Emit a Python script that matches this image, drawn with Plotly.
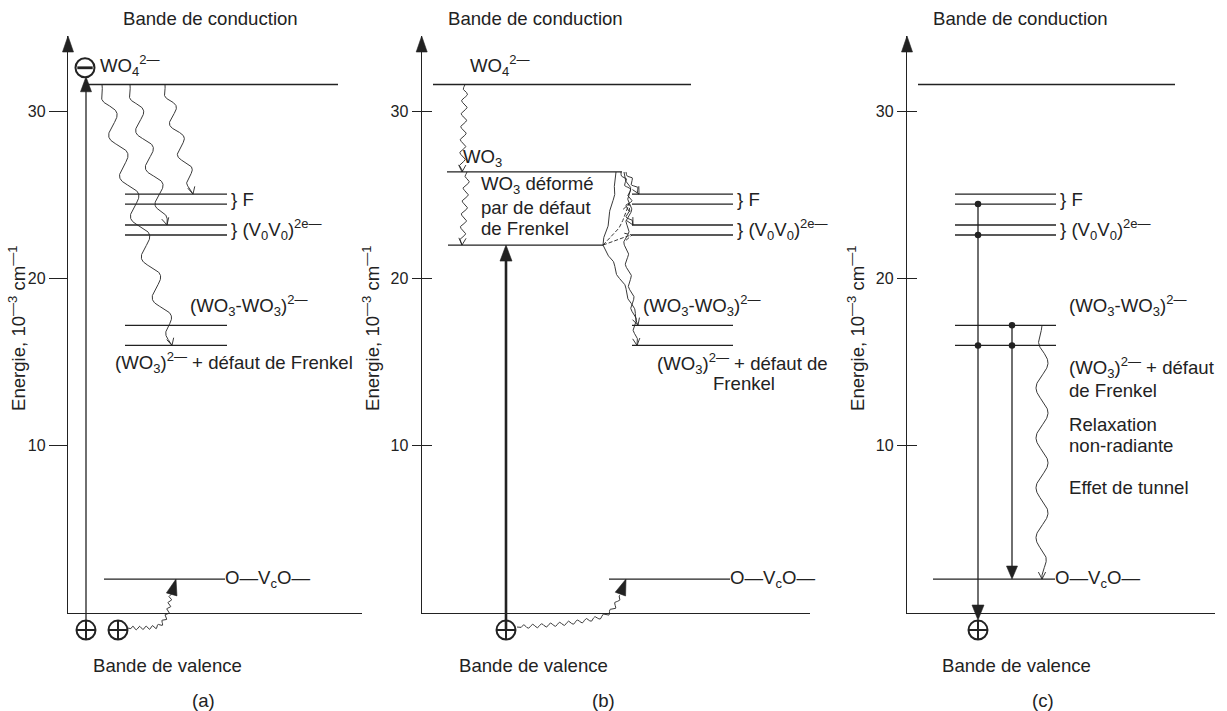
import numpy as np
import plotly.graph_objects as go

# ---------------- data (energies in 10^3 cm^-1) ----------------
ENERGY_TICKS = [10, 20, 30]
Y_MAX = 34.5
E_WO4 = 31.6          # WO4 2- level (conduction band edge)
E_ELECTRON = 32.6     # electron symbol position
E_F = [25.05, 24.45]  # F centre doublet
E_VV = [23.2, 22.6]   # (V0V0)2e- doublet
E_WO3WO3 = 17.2       # (WO3-WO3)2-
E_WO3FR = 16.0        # (WO3)2- + Frenkel defect
E_OVCO = 2.03         # O-VcO
E_WO3 = 26.37         # WO3 (panel b)
E_WO3DEF = 22.0       # distorted WO3 (panel b)
E_HOLE = -1.02        # hole symbol (valence band)
E_VALENCE = 0.0

PANEL_TITLES_TOP = ["Bande de conduction"] * 3
PANEL_TITLES_BOTTOM = ["Bande de valence"] * 3
PANEL_LETTERS = ["(a)", "(b)", "(c)"]

# ---------------- geometry helpers ----------------
W, H = 1227, 711
Y0, YTOP = 613.0, 36.0
S = (Y0 - YTOP) / Y_MAX
INK = "#222222"
FONT = "Liberation Sans, Arial, Helvetica, sans-serif"
FS = 18.6


def py(e):
    return Y0 - e * S


def ep(p):
    return (Y0 - p) / S


def smooth(pts, n=24):
    pts = np.array(pts, float)
    if len(pts) < 3:
        return pts
    P = np.vstack([pts[0], pts, pts[-1]])
    out = []
    for i in range(1, len(P) - 2):
        p0, p1, p2, p3 = P[i - 1], P[i], P[i + 1], P[i + 2]
        for t in np.linspace(0, 1, n, endpoint=False):
            t2, t3 = t * t, t * t * t
            out.append(0.5 * (2 * p1 + (-p0 + p2) * t + (2 * p0 - 5 * p1 + 4 * p2 - p3) * t2
                              + (-p0 + 3 * p1 - 3 * p2 + p3) * t3))
    out.append(pts[-1])
    return np.array(out)


def wavy(pts, amp, wl, step=0.4):
    base = smooth(pts)
    seg = np.diff(base, axis=0)
    L = np.hypot(seg[:, 0], seg[:, 1])
    cum = np.concatenate([[0], np.cumsum(L)])
    total = cum[-1]
    s = np.linspace(0, total, max(int(total / step), 3))
    x = np.interp(s, cum, base[:, 0])
    y = np.interp(s, cum, base[:, 1])
    if amp == 0:
        return x, y, base
    dx, dy = np.gradient(x), np.gradient(y)
    nn = np.hypot(dx, dy)
    nn[nn == 0] = 1
    nx, ny = -dy / nn, dx / nn
    taper = np.clip(np.minimum(s, total - s) / (wl * 0.5), 0, 1)
    off = amp * np.sin(2 * np.pi * s / wl) * taper
    return x + off * nx, y + off * ny, base


def end_dir(base):
    d = base[-1] - base[-4 if len(base) > 4 else 0]
    return d / np.hypot(*d)


class Pen:
    def __init__(self):
        self.x, self.y = [], []

    def add(self, xs, ys):
        self.x += list(xs) + [None]
        self.y += [None if v is None else (Y0 - v) / S for v in ys] + [None]


levels = Pen()
waves = Pen()
dashed = Pen()
vert = Pen()
thick = Pen()
heads = Pen()


def level(x0, x1, e):
    levels.add([x0, x1], [py(e), py(e)])


def open_head(tip, d, L=7.0, Wd=3.6, pen=None):
    pen = pen or waves
    n = np.array([-d[1], d[0]])
    b = tip - L * d
    p1, p2 = b + Wd * n, b - Wd * n
    pen.add([p1[0], tip[0], p2[0]], [p1[1], tip[1], p2[1]])


def filled_head(tip, d, L=15.0, Wd=5.5):
    tip = np.array(tip, float)
    n = np.array([-d[1], d[0]])
    b = tip - L * d
    p1, p2 = b + Wd * n, b - Wd * n
    heads.add([tip[0], p1[0], p2[0], tip[0]], [tip[1], p1[1], p2[1], tip[1]])


def wave_arrow(pts, amp, wl, pen=None, head="open", **kw):
    pen = pen or waves
    pts = [(x, py(e)) for x, e in pts]
    x, y, base = wavy(pts, amp, wl)
    pen.add(x, y)
    d = end_dir(base)
    tip = np.array(pts[-1], float)
    if head == "open":
        open_head(tip, d, pen=pen, **kw)
    elif head == "filled":
        filled_head(tip, d, **kw)


def wave_raw(pts_px, amp, wl, pen=None):
    pen = pen or waves
    x, y, base = wavy(pts_px, amp, wl)
    pen.add(x, y)
    return base


AX = [68.0, 421.7, 907.0]
AX_END = [362.0, 810.0, 1215.0]

# ---------------- panel (a) ----------------
level(88, 338, E_WO4)
for e in E_F + E_VV + [E_WO3WO3, E_WO3FR]:
    level(125, 227, e)
level(104, 225, E_OVCO)
wave_arrow([(102, E_WO4), (172, E_WO3FR)], 7, 42)
wave_arrow([(130, E_WO4), (167, E_VV[0])], 6.5, 38)
wave_arrow([(165, E_WO4), (193, E_F[0])], 5.5, 32)
# vertical excitation arrow
vert.add([86, 86], [py(E_HOLE), py(E_ELECTRON) + 22])
filled_head((86, py(E_ELECTRON) + 9), np.array([0, -1.0]), L=15, Wd=5.5)
# hole -> O-VcO trap
wave_raw([(128, py(E_HOLE) - 2), (150, py(E_HOLE) - 2.5), (160, py(E_HOLE) - 5),
          (167, py(E_HOLE) - 16), (171, py(E_OVCO) + 15)], 1.8, 6.5)
filled_head((176, py(E_OVCO)), np.array([0.27, -0.96]), L=16, Wd=5.5)

# ---------------- panel (b) ----------------
level(433, 691, E_WO4)
level(447, 622, E_WO3)
level(448, 603, E_WO3DEF)
for e in E_F + E_VV + [E_WO3WO3, E_WO3FR]:
    level(632, 733, e)
level(609, 730, E_OVCO)
wave_arrow([(465, E_WO4), (462, E_WO3)], 2.8, 13)
wave_arrow([(467, E_WO3), (462, E_WO3DEF)], 2.8, 13)
# right-hand relaxation paths
wave_raw([(616, py(E_WO3)), (612, 205), (606, 230), (603, py(E_WO3DEF))], 1.2, 30)
wave_arrow([(603, E_WO3DEF), (616, ep(270)), (630, ep(300)), (638, E_WO3WO3)], 1.5, 26)
wave_arrow([(624, E_WO3), (630, ep(200)), (626, ep(245)), (631, ep(290)), (637, E_WO3FR)], 2.2, 22)
wave_arrow([(626, E_WO3), (634, ep(185)), (639, E_F[0])], 2.2, 11)
wave_arrow([(621, E_WO3), (630, ep(195)), (627, ep(212)), (633, E_VV[0])], 2.2, 11)
wave_arrow([(603, E_WO3DEF), (619, ep(228)), (629, E_F[1])], 0, 10, pen=dashed)
wave_arrow([(603, E_WO3DEF), (621, ep(238)), (632, E_VV[1])], 0, 10, pen=dashed)
# thick excitation arrow
thick.add([506, 506], [py(E_HOLE), py(E_WO3DEF) + 12])
filled_head((506, py(E_WO3DEF)), np.array([0, -1.0]), L=16, Wd=6)
wave_raw([(517, py(E_HOLE) - 3), (560, py(E_HOLE) - 6), (597, py(E_HOLE) - 12),
          (612, py(E_HOLE) - 20), (620, py(E_OVCO) + 16)], 1.8, 9)
filled_head((626, py(E_OVCO)), np.array([0.35, -0.94]), L=16, Wd=5.5)

# ---------------- panel (c) ----------------
level(918, 1175, E_WO4)
for e in E_F + E_VV + [E_WO3WO3, E_WO3FR]:
    level(955, 1056, e)
level(933, 1055, E_OVCO)
vert.add([978, 978], [py(E_F[1]), py(E_HOLE) - 18])
filled_head((978, py(E_HOLE) - 10), np.array([0, 1.0]), L=15, Wd=6)
vert.add([1012, 1012], [py(E_WO3WO3), py(E_OVCO) - 10])
filled_head((1012, py(E_OVCO)), np.array([0, 1.0]), L=13, Wd=5.5)
wave_arrow([(1042, E_WO3WO3), (1042, E_OVCO)], 6, 50)

# axis arrowheads
for ax in AX:
    filled_head((ax, py(Y_MAX)), np.array([0, -1.0]), L=16, Wd=5.5)

# ---------------- figure ----------------
fig = go.Figure()
cv = dict(xaxis="x4", yaxis="y4", hoverinfo="skip", showlegend=False)
fig.add_trace(go.Scatter(x=levels.x, y=levels.y, mode="lines",
                         line=dict(color=INK, width=1.3), **cv))
fig.add_trace(go.Scatter(x=waves.x, y=waves.y, mode="lines",
                         line=dict(color=INK, width=0.9), **cv))
fig.add_trace(go.Scatter(x=dashed.x, y=dashed.y, mode="lines",
                         line=dict(color=INK, width=0.9, dash="4px,2px"), **cv))
fig.add_trace(go.Scatter(x=vert.x, y=vert.y, mode="lines",
                         line=dict(color=INK, width=1.3), **cv))
fig.add_trace(go.Scatter(x=thick.x, y=thick.y, mode="lines",
                         line=dict(color=INK, width=2.6), **cv))
fig.add_trace(go.Scatter(x=heads.x, y=heads.y, mode="lines", fill="toself",
                         fillcolor=INK, line=dict(color=INK, width=0.6), **cv))
# dots on panel (c)
fig.add_trace(go.Scatter(x=[978, 978, 978, 1012, 1012],
                         y=[E_F[1], E_VV[1], E_WO3FR, E_WO3WO3, E_WO3FR],
                         mode="markers", marker=dict(size=6.5, color=INK), **cv))
# holes and electron
fig.add_trace(go.Scatter(x=[86, 118, 506, 978], y=[E_HOLE] * 4, mode="markers",
                         marker=dict(symbol="circle-cross-open", size=19, color=INK,
                                     line=dict(width=2, color=INK)), **cv))
fig.add_trace(go.Scatter(x=[85], y=[E_ELECTRON], mode="markers",
                         marker=dict(symbol="circle", size=19, color="white",
                                     line=dict(width=2, color=INK)), **cv))
fig.add_trace(go.Scatter(x=[85], y=[E_ELECTRON], mode="markers",
                         marker=dict(symbol="line-ew-open", size=11, color=INK,
                                     line=dict(width=2.8, color=INK)), **cv))

# dummy traces to instantiate panel axes
for xa, ya in [("x", "y"), ("x2", "y2"), ("x3", "y3"), ("x2", "y5"), ("x3", "y6")]:
    fig.add_trace(go.Scatter(x=[None], y=[None], xaxis=xa, yaxis=ya, showlegend=False,
                             hoverinfo="skip"))

yd = [(H - Y0) / H, (H - YTOP) / H]
base_x = dict(showline=True, linecolor=INK, linewidth=1.3, showticklabels=False,
              showgrid=False, zeroline=False, ticks="", fixedrange=True)
base_y = dict(domain=yd, range=[0, Y_MAX], showline=True, linecolor=INK, linewidth=1.3,
              ticks="outside", tickwidth=1.2, tickcolor=INK, tickvals=ENERGY_TICKS,
              tickfont=dict(size=16, color=INK, family=FONT), showgrid=False,
              zeroline=False, fixedrange=True)
inner_y = dict(range=[0, Y_MAX], showline=False, ticks="inside", ticklen=10,
               tickwidth=1.2, tickcolor=INK, tickvals=ENERGY_TICKS,
               showticklabels=False, showgrid=False, zeroline=False, side="left",
               fixedrange=True)

layout = dict(
    width=W, height=H, margin=dict(l=0, r=0, t=0, b=0),
    paper_bgcolor="white", plot_bgcolor="rgba(0,0,0,0)", showlegend=False,
    font=dict(family=FONT, color=INK, size=FS),
    xaxis=dict(domain=[AX[0] / W, AX_END[0] / W], range=[AX[0], AX_END[0]], anchor="y", **base_x),
    xaxis2=dict(domain=[AX[1] / W, AX_END[1] / W], range=[AX[1], AX_END[1]], anchor="y2", **base_x),
    xaxis3=dict(domain=[AX[2] / W, AX_END[2] / W], range=[AX[2], AX_END[2]], anchor="y3", **base_x),
    yaxis=dict(anchor="x", ticklen=18, **base_y),
    yaxis2=dict(anchor="x2", ticklen=9, **base_y),
    yaxis3=dict(anchor="x3", ticklen=9, **base_y),
    yaxis5=dict(anchor="x2", overlaying="y2", **inner_y),
    yaxis6=dict(anchor="x3", overlaying="y3", **inner_y),
    xaxis4=dict(domain=[0, 1], range=[0, W], visible=False, anchor="y4", fixedrange=True),
    yaxis4=dict(domain=[0, 1], range=[(Y0 - H) / S, Y0 / S], visible=False, anchor="x4",
                fixedrange=True),
)

ann = []


def txt(x, ypx, s, size=FS, xanchor="left", yanchor="middle", angle=0):
    ann.append(dict(x=x / W, y=1 - ypx / H, xref="paper", yref="paper", text=s,
                    showarrow=False, xanchor=xanchor, yanchor=yanchor, textangle=angle,
                    font=dict(size=size, color=INK, family=FONT)))


WO4 = "WO<sub>4</sub><sup>2—</sup>"
VV = "} (V<sub>0</sub>V<sub>0</sub>)<sup>2e—</sup>"
W2 = "(WO<sub>3</sub>-WO<sub>3</sub>)<sup>2—</sup>"
W1 = "(WO<sub>3</sub>)<sup>2—</sup>"
OV = "O—V<sub>c</sub>O—"
YT = "Energie, 10<sup>—3</sup> cm<sup>—1</sup>"

for cx, t in zip([210, 535, 1020], PANEL_TITLES_TOP):
    txt(cx, 18, t, xanchor="center")
for cx, t in zip([167, 533, 1016], PANEL_TITLES_BOTTOM):
    txt(cx, 665, t, xanchor="center")
for cx, t in zip([203, 603, 1043], PANEL_LETTERS):
    txt(cx, 700, t, xanchor="center")
for cx in [17, 371, 856]:
    txt(cx, 328, YT, xanchor="center", angle=-90)

# panel a labels
txt(98, 66, WO4)
txt(229, py(E_F[0]) + 5, "} F")
txt(229, py(E_VV[0]) + 5, VV)
txt(188, 305, W2)
txt(113, 362, W1 + " + défaut de Frenkel")
txt(223, py(E_OVCO), OV)
# panel b labels
txt(468, 66, WO4)
txt(461, 158, "WO<sub>3</sub>")
txt(479, 185, "WO<sub>3</sub> déformé")
txt(479, 207, "par de défaut")
txt(479, 228, "de Frenkel")
txt(735, py(E_F[0]) + 5, "} F")
txt(735, py(E_VV[0]) + 5, VV)
txt(641, 305, W2)
txt(655, 363, W1 + " + défaut de")
txt(711, 384, "Frenkel")
txt(728, py(E_OVCO), OV)
# panel c labels
txt(1058, py(E_F[0]) + 5, "} F")
txt(1058, py(E_VV[0]) + 5, VV)
txt(1067, 305, W2)
txt(1067, 367, W1 + " + défaut")
txt(1067, 390, "de Frenkel")
txt(1067, 424, "Relaxation")
txt(1067, 445, "non-radiante")
txt(1067, 487, "Effet de tunnel")
txt(1053, py(E_OVCO), OV)

layout["annotations"] = ann
fig.update_layout(**layout)
fig.write_html("out.html", config={"displayModeBar": False})
